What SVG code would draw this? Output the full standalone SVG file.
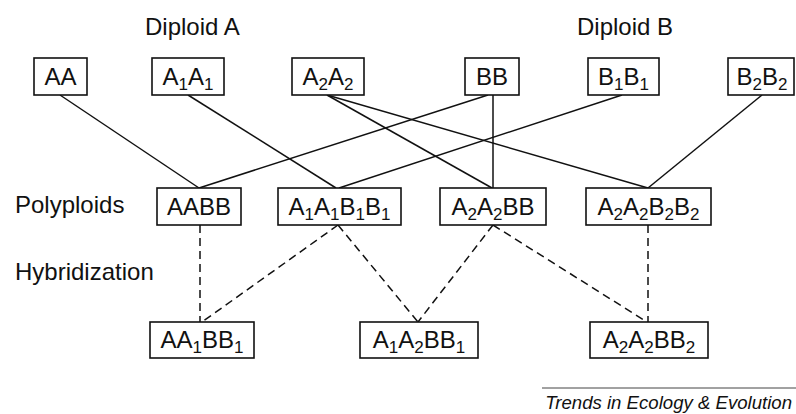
<svg xmlns="http://www.w3.org/2000/svg" width="796" height="414" viewBox="0 0 796 414">
<style>
text{font-family:"Liberation Sans",Arial,sans-serif;font-size:24px;fill:#111}
.n rect{fill:#fff;stroke:#111;stroke-width:1.6}
.n text{text-anchor:middle}
.s{font-size:17px}
.c line{stroke:#111;stroke-width:1.5}
.d line{stroke-dasharray:8 5}
.cap{font-style:italic;font-size:18.6px;text-anchor:end}
</style>
<rect width="796" height="414" fill="#fff"/>
<g id="labels">
<text x="145" y="35">Diploid A</text>
<text x="577" y="35">Diploid B</text>
<text x="15" y="213">Polyploids</text>
<text x="15" y="280">Hybridization</text>
</g>
<g id="connectors" class="c">
<g class="solid">
<line x1="60" y1="95" x2="199" y2="188"/>
<line x1="188" y1="95" x2="336" y2="188"/>
<line x1="327" y1="95" x2="492" y2="188"/>
<line x1="327" y1="95" x2="648" y2="188"/>
<line x1="488" y1="95" x2="199" y2="188"/>
<line x1="493" y1="95" x2="493" y2="188"/>
<line x1="622" y1="95" x2="339" y2="188"/>
<line x1="762" y1="95" x2="648" y2="188"/>
</g>
<g class="d">
<line x1="200" y1="225" x2="200" y2="322"/>
<line x1="338" y1="225" x2="202" y2="322"/>
<line x1="338" y1="225" x2="418" y2="322"/>
<line x1="493" y1="225" x2="418" y2="322"/>
<line x1="493" y1="225" x2="647" y2="322"/>
<line x1="648" y1="225" x2="648" y2="322"/>
</g>
</g>
<g id="AA" class="n"><rect x="34" y="58" width="53" height="37"/><text x="60.5" y="85">AA</text></g>
<g id="A1A1" class="n"><rect x="152" y="58" width="72" height="37"/><text x="188" y="85">A<tspan class="s" dy="5">1</tspan><tspan dy="-5">A</tspan><tspan class="s" dy="5">1</tspan></text></g>
<g id="A2A2" class="n"><rect x="292" y="58" width="72" height="37"/><text x="328" y="85">A<tspan class="s" dy="5">2</tspan><tspan dy="-5">A</tspan><tspan class="s" dy="5">2</tspan></text></g>
<g id="BB" class="n"><rect x="465" y="58" width="54" height="37"/><text x="492" y="85">BB</text></g>
<g id="B1B1" class="n"><rect x="588" y="58" width="71" height="37"/><text x="623.5" y="85">B<tspan class="s" dy="5">1</tspan><tspan dy="-5">B</tspan><tspan class="s" dy="5">1</tspan></text></g>
<g id="B2B2" class="n"><rect x="728" y="58" width="66" height="37"/><text x="762" y="85">B<tspan class="s" dy="5">2</tspan><tspan dy="-5">B</tspan><tspan class="s" dy="5">2</tspan></text></g>
<g id="AABB" class="n"><rect x="157" y="188" width="84" height="37"/><text x="199" y="215">AABB</text></g>
<g id="A1A1B1B1" class="n"><rect x="278" y="188" width="123" height="37"/><text x="339.5" y="215">A<tspan class="s" dy="5">1</tspan><tspan dy="-5">A</tspan><tspan class="s" dy="5">1</tspan><tspan dy="-5">B</tspan><tspan class="s" dy="5">1</tspan><tspan dy="-5">B</tspan><tspan class="s" dy="5">1</tspan></text></g>
<g id="A2A2BB" class="n"><rect x="440" y="188" width="106" height="37"/><text x="493" y="215">A<tspan class="s" dy="5">2</tspan><tspan dy="-5">A</tspan><tspan class="s" dy="5">2</tspan><tspan dy="-5">BB</tspan></text></g>
<g id="A2A2B2B2" class="n"><rect x="586" y="188" width="125" height="37"/><text x="648.5" y="215">A<tspan class="s" dy="5">2</tspan><tspan dy="-5">A</tspan><tspan class="s" dy="5">2</tspan><tspan dy="-5">B</tspan><tspan class="s" dy="5">2</tspan><tspan dy="-5">B</tspan><tspan class="s" dy="5">2</tspan></text></g>
<g id="AA1BB1" class="n"><rect x="150" y="322" width="104" height="36"/><text x="202" y="348">AA<tspan class="s" dy="5">1</tspan><tspan dy="-5">BB</tspan><tspan class="s" dy="5">1</tspan></text></g>
<g id="A1A2BB1" class="n"><rect x="360" y="322" width="118" height="36"/><text x="419" y="348">A<tspan class="s" dy="5">1</tspan><tspan dy="-5">A</tspan><tspan class="s" dy="5">2</tspan><tspan dy="-5">BB</tspan><tspan class="s" dy="5">1</tspan></text></g>
<g id="A2A2BB2" class="n"><rect x="590" y="322" width="118" height="36"/><text x="649" y="348">A<tspan class="s" dy="5">2</tspan><tspan dy="-5">A</tspan><tspan class="s" dy="5">2</tspan><tspan dy="-5">BB</tspan><tspan class="s" dy="5">2</tspan></text></g>
<g id="caption">
<line x1="542" y1="388" x2="796" y2="388" stroke="#444" stroke-width="1"/>
<text class="cap" x="792" y="409">Trends in Ecology &amp; Evolution</text>
</g>
</svg>
